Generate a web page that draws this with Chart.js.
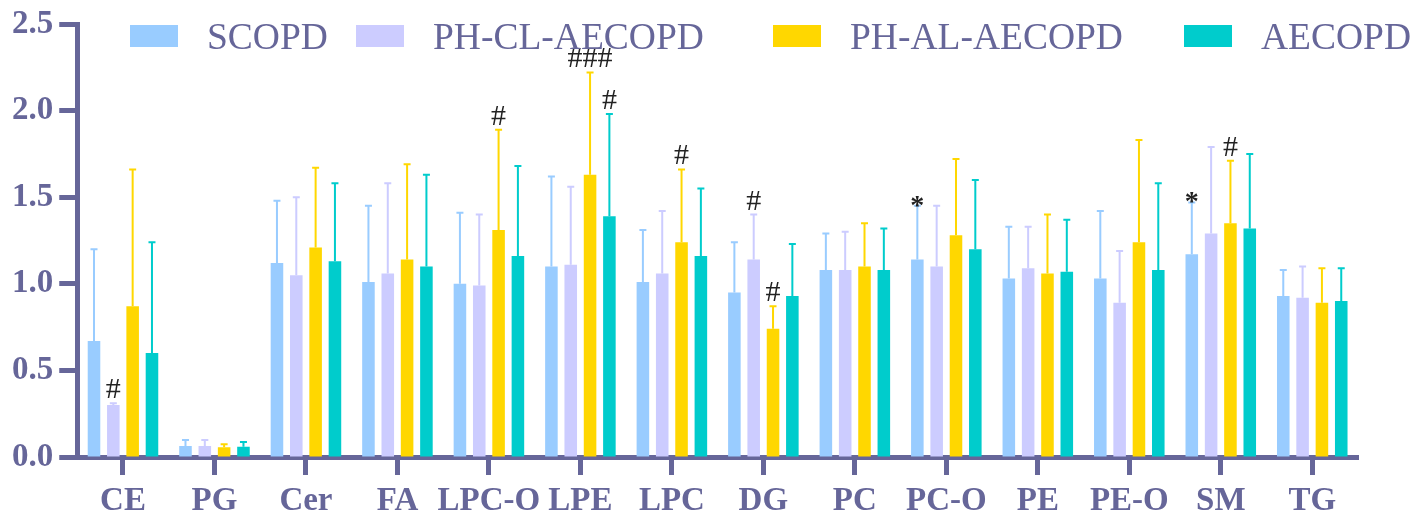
<!DOCTYPE html>
<html>
<head>
<meta charset="utf-8">
<script src="https://cdn.jsdelivr.net/npm/chart.js"></script>
<style>
  body { margin: 0; background: #fff; }
</style>
</head>
<body>
<canvas id="myChart" width="1414" height="514"></canvas>
<script>
// data
const categories = ["CE", "PG", "Cer", "FA", "LPC-O", "LPE", "LPC", "DG", "PC", "PC-O", "PE", "PE-O", "SM", "TG"];
const seriesNames = ["SCOPD", "PH-CL-AECOPD", "PH-AL-AECOPD", "AECOPD"];

const scopdMean = [0.67, 0.063, 1.12, 1.01, 1.00, 1.10, 1.01, 0.95, 1.08, 1.14, 1.03, 1.03, 1.17, 0.93];
const scopdSd   = [0.53, 0.035, 0.36, 0.44, 0.41, 0.52, 0.30, 0.29, 0.21, 0.31, 0.30, 0.39, 0.30, 0.15];
const phclMean  = [0.30, 0.063, 1.05, 1.06, 0.99, 1.11, 1.06, 1.14, 1.08, 1.10, 1.09, 0.89, 1.29, 0.92];
const phclSd    = [0.01, 0.035, 0.45, 0.52, 0.41, 0.45, 0.36, 0.26, 0.22, 0.35, 0.24, 0.30, 0.50, 0.18];
const phalMean  = [0.87, 0.056, 1.21, 1.14, 1.31, 1.63, 1.24, 0.74, 1.10, 1.28, 1.06, 1.24, 1.35, 0.89];
const phalSd    = [0.79, 0.017, 0.46, 0.55, 0.58, 0.59, 0.42, 0.13, 0.25, 0.44, 0.34, 0.59, 0.36, 0.20];
const aeMean    = [0.60, 0.059, 1.13, 1.10, 1.16, 1.39, 1.16, 0.93, 1.08, 1.20, 1.07, 1.08, 1.32, 0.90];
const aeSd      = [0.64, 0.027, 0.45, 0.53, 0.52, 0.59, 0.39, 0.30, 0.24, 0.40, 0.30, 0.50, 0.43, 0.19];

const yTicks = [0, 0.5, 1.0, 1.5, 2.0, 2.5];

// significance marks: [category, series index, text]
const marks = [
  ["CE", 1, "#"], ["LPC-O", 2, "#"], ["LPE", 2, "###"], ["LPE", 3, "#"],
  ["LPC", 2, "#"], ["DG", 1, "#"], ["DG", 2, "#"], ["PC-O", 0, "*"],
  ["SM", 0, "*"], ["SM", 2, "#"],
];

const colors = ["#99CCFF", "#CCCCFF", "#FFD700", "#00CCCC"];
const axisColor = "#666699";
const means = [scopdMean, phclMean, phalMean, aeMean];
const sds = [scopdSd, phclSd, phalSd, aeSd];

// error bars (upper side only)
const errorBars = {
  id: "errorBars",
  afterDatasetsDraw(chart) {
    const ctx = chart.ctx;
    const y = chart.scales.y;
    ctx.save();
    chart.data.datasets.forEach((ds, i) => {
      const meta = chart.getDatasetMeta(i);
      meta.data.forEach((bar, j) => {
        const top = y.getPixelForValue(means[i][j] + sds[i][j]);
        ctx.strokeStyle = colors[i];
        ctx.lineWidth = 2;
        ctx.beginPath();
        ctx.moveTo(bar.x, bar.y);
        ctx.lineTo(bar.x, top);
        ctx.moveTo(bar.x - 3.5, top);
        ctx.lineTo(bar.x + 3.5, top);
        ctx.stroke();
      });
    });
    // marks
    ctx.fillStyle = "#222";
    ctx.textAlign = "center";
    ctx.textBaseline = "alphabetic";
    marks.forEach(([cat, s, txt]) => {
      const j = categories.indexOf(cat);
      const bar = chart.getDatasetMeta(s).data[j];
      const top = y.getPixelForValue(means[s][j] + sds[s][j]);
      if (txt === "*") {
        ctx.font = "bold 28px 'Liberation Serif'";
        ctx.fillText(txt, bar.x, top + 8);
      } else {
        ctx.font = "30px 'Liberation Serif'";
        ctx.fillText(txt, bar.x, top - 5);
      }
    });
    ctx.restore();
  },
};

// legend drawn across the top of the plot
const legendX = [130, 356, 773, 1184];
const topLegend = {
  id: "topLegend",
  afterDraw(chart) {
    const ctx = chart.ctx;
    ctx.save();
    ctx.font = "37.5px 'Liberation Serif'";
    ctx.textBaseline = "alphabetic";
    ctx.textAlign = "left";
    chart.data.datasets.forEach((ds, i) => {
      ctx.fillStyle = ds.backgroundColor;
      ctx.fillRect(legendX[i], 25, 48, 22);
      ctx.fillStyle = axisColor;
      ctx.fillText(ds.label, legendX[i] + 77, 49);
    });
    ctx.restore();
  },
};

const tickFont = { family: "'Liberation Serif'", size: 33, weight: "bold", lineHeight: 1 };

new Chart(document.getElementById("myChart"), {
  type: "bar",
  data: {
    labels: categories,
    datasets: seriesNames.map((name, i) => ({
      label: name,
      data: means[i],
      backgroundColor: colors[i],
    })),
  },
  options: {
    responsive: false,
    animation: false,
    layout: { padding: { left: 6, right: 56, top: 24, bottom: -14 } },
    datasets: { bar: { categoryPercentage: 0.845, barPercentage: 0.65 } },
    plugins: { legend: { display: false }, tooltip: { enabled: false } },
    scales: {
      x: {
        offset: true,
        grid: { offset: false, drawOnChartArea: false, tickLength: 18, tickWidth: 5, tickColor: axisColor },
        border: { color: axisColor, width: 5 },
        ticks: { color: axisColor, font: tickFont, padding: 10, maxRotation: 0, autoSkip: false },
      },
      y: {
        min: 0,
        max: 2.5,
        afterBuildTicks(scale) {
          scale.ticks = yTicks.map((v) => ({ value: v }));
        },
        grid: { drawOnChartArea: false, tickLength: 18, tickWidth: 5, tickColor: axisColor },
        border: { color: axisColor, width: 5 },
        ticks: {
          color: axisColor,
          font: tickFont,
          padding: 6,
          callback: (v) => v.toFixed(1),
        },
      },
    },
  },
  plugins: [errorBars, topLegend],
});
</script>
</body>
</html>
